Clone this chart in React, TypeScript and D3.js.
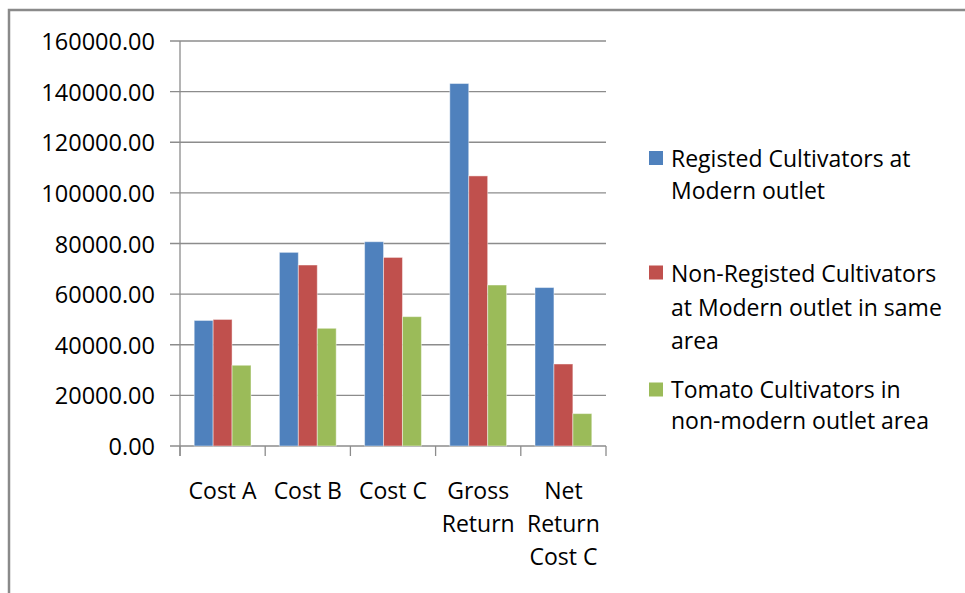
import React from "react";
import * as d3 from "d3";

const categories: string[][] = [
  ["Cost A"],
  ["Cost B"],
  ["Cost C"],
  ["Gross", "Return"],
  ["Net", "Return", "Cost C"],
];
const seriesNames: string[][] = [
  ["Registed Cultivators at", "Modern outlet"],
  ["Non-Registed Cultivators", "at Modern outlet in same", "area"],
  ["Tomato Cultivators in", "non-modern outlet area"],
];
const registed = [49600, 76500, 80700, 143200, 62600];
const nonRegisted = [50000, 71500, 74500, 106700, 32400];
const tomato = [31900, 46500, 51100, 63600, 12800];
const yTicks = [0, 20000, 40000, 60000, 80000, 100000, 120000, 140000, 160000];

const colors = ["#4F81BD", "#C0504D", "#9BBB59"];
const FONT = "'Open Sans', sans-serif";

export default function App() {
  const W = 965;
  const H = 593;
  const left = 180;
  const right = 606;
  const top = 41;
  const bottom = 446;
  const series = [registed, nonRegisted, tomato];

  const y = d3.scaleLinear().domain([0, 160000]).range([bottom, top]);
  const x0 = d3
    .scaleBand<number>()
    .domain(d3.range(categories.length))
    .range([left, right])
    .paddingInner(0)
    .paddingOuter(0);
  const bw = x0.bandwidth();
  const barW = bw / 4.5;
  const x1 = d3
    .scaleBand<number>()
    .domain(d3.range(series.length))
    .range([barW * 0.75, bw - barW * 0.75])
    .padding(0);

  const legendLines = [
    [158, 190],
    [273, 306.5, 340],
    [389, 420],
  ];
  const legendSquareY = [158, 272.5, 389.5];

  return (
    <svg
      width={W}
      height={H}
      style={{ position: "absolute", left: 0, top: 0, background: "#fff" }}
      fontFamily={FONT}
    >
      <rect x={0} y={0} width={W} height={H} fill="#fff" />
      <rect x={9} y={10} width={W + 20} height={H + 20} fill="none" stroke="#8a8a8a" strokeWidth={2.5} />
      {yTicks.map((t) => (
        <g key={t}>
          <line x1={170} x2={right} y1={y(t)} y2={y(t)} stroke="#8c8c8c" strokeWidth={1.3} />
          <text
            x={155}
            y={y(t)}
            textAnchor="end"
            dominantBaseline="central"
            fontSize={23.5}
            fill="#000"
          >
            {t.toFixed(2)}
          </text>
        </g>
      ))}
      <line x1={left} x2={left} y1={top} y2={bottom + 10} stroke="#8c8c8c" strokeWidth={1.3} />
      {d3.range(categories.length + 1).map((i) => {
        const xx = i < categories.length ? x0(i)! : right;
        return <line key={i} x1={xx} x2={xx} y1={bottom} y2={bottom + 10} stroke="#8c8c8c" strokeWidth={1.3} />;
      })}
      {categories.map((_, ci) =>
        series.map((s, si) => (
          <rect
            key={`${ci}-${si}`}
            x={x0(ci)! + x1(si)!}
            y={y(s[ci])}
            width={x1.bandwidth()}
            height={bottom - y(s[ci])}
            fill={colors[si]}
            stroke="rgba(255,255,255,0.45)"
            strokeWidth={1}
          />
        ))
      )}
      {categories.map((lines, ci) => (
        <text key={ci} textAnchor="middle" fontSize={23} fill="#000">
          {lines.map((l, li) => (
            <tspan key={li} x={x0(ci)! + bw / 2} y={490 + li * 33} dominantBaseline="central">
              {l}
            </tspan>
          ))}
        </text>
      ))}
      {seriesNames.map((lines, si) => (
        <g key={si}>
          <rect x={649} y={legendSquareY[si] - 7} width={14} height={14} fill={colors[si]} />
          <text fontSize={23} fill="#000">
            {lines.map((l, li) => (
              <tspan key={li} x={671} y={legendLines[si][li]} dominantBaseline="central">
                {l}
              </tspan>
            ))}
          </text>
        </g>
      ))}
    </svg>
  );
}
